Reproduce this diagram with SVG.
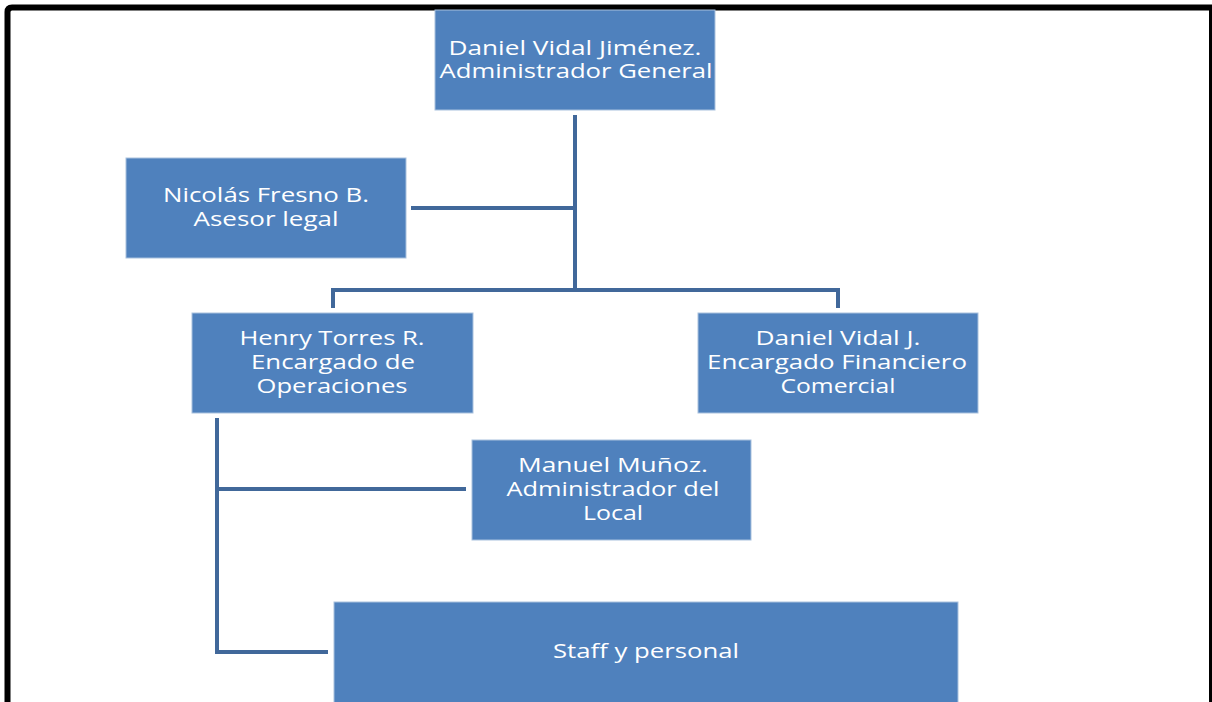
<svg xmlns="http://www.w3.org/2000/svg" width="1212" height="702" viewBox="0 0 1212 702">
<style>
.box{fill:#4f81bd;stroke:#a9c1de;stroke-width:1}
.t{font-family:"Open Sans","Noto Sans",sans-serif;font-size:20.5px;fill:#ffffff;text-anchor:middle}
.c{fill:none;stroke:#41689a;stroke-width:4;stroke-linejoin:miter}
</style>
<rect x="0" y="0" width="1212" height="702" fill="#ffffff"/>
<path d="M7.5,702 V12 Q7.5,7.5 12,7.5 H1212" fill="none" stroke="#000" stroke-width="6"/>
<line x1="1210.5" y1="7" x2="1210.5" y2="702" stroke="#000" stroke-width="3"/>
<g id="connectors">
<path class="c" d="M575,115 V290"/>
<path class="c" d="M411,208 H575"/>
<path class="c" d="M333,308 V290 H838 V308"/>
<path class="c" d="M217,418 V652 H328"/>
<path class="c" d="M217,489 H466"/>
</g>
<g id="n1"><rect class="box" x="435" y="10" width="280" height="100"/><text class="t" x="575" y="55" textLength="253" lengthAdjust="spacingAndGlyphs">Daniel Vidal Jiménez.</text><text class="t" x="576" y="78" textLength="273" lengthAdjust="spacingAndGlyphs">Administrador General</text></g>
<g id="n2"><rect class="box" x="126" y="158" width="280" height="100"/><text class="t" x="266" y="202" textLength="206" lengthAdjust="spacingAndGlyphs">Nicolás Fresno B.</text><text class="t" x="266" y="226" textLength="145" lengthAdjust="spacingAndGlyphs">Asesor legal</text></g>
<g id="n3"><rect class="box" x="192" y="313" width="281" height="100"/><text class="t" x="332" y="345" textLength="185" lengthAdjust="spacingAndGlyphs">Henry Torres R.</text><text class="t" x="333" y="369" textLength="164" lengthAdjust="spacingAndGlyphs">Encargado de</text><text class="t" x="332" y="393" textLength="151" lengthAdjust="spacingAndGlyphs">Operaciones</text></g>
<g id="n4"><rect class="box" x="698" y="313" width="280" height="100"/><text class="t" x="838" y="345" textLength="165" lengthAdjust="spacingAndGlyphs">Daniel Vidal J.</text><text class="t" x="837" y="369" textLength="260" lengthAdjust="spacingAndGlyphs">Encargado Financiero</text><text class="t" x="838" y="393" textLength="115" lengthAdjust="spacingAndGlyphs">Comercial</text></g>
<g id="n5"><rect class="box" x="472" y="440" width="279" height="100"/><text class="t" x="613" y="472" textLength="190" lengthAdjust="spacingAndGlyphs">Manuel Muñoz.</text><text class="t" x="613" y="496" textLength="213" lengthAdjust="spacingAndGlyphs">Administrador del</text><text class="t" x="613" y="520" textLength="60" lengthAdjust="spacingAndGlyphs">Local</text></g>
<g id="n6"><rect class="box" x="334" y="602" width="624" height="104"/><text class="t" x="646" y="658" textLength="186" lengthAdjust="spacingAndGlyphs">Staff y personal</text></g>
</svg>
